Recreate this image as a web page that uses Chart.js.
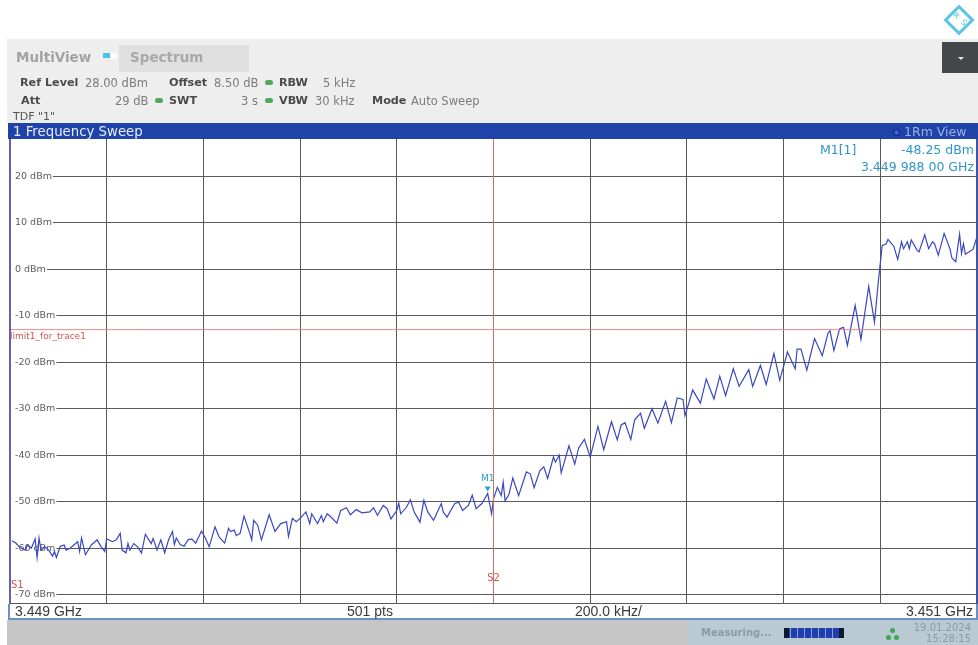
<!DOCTYPE html>
<html><head><meta charset="utf-8">
<script src="https://cdn.jsdelivr.net/npm/chart.js@4"></script>
<style>
html,body{margin:0;padding:0;background:#fff;width:978px;height:645px;overflow:hidden}
#root{position:relative;width:978px;height:645px;overflow:hidden;font-family:"DejaVu Sans",sans-serif;filter:blur(.45px)}
#root div{position:absolute}
.t{white-space:nowrap;line-height:14px}
.b{font-weight:bold;color:#4a4a4a;font-size:11.2px}
.g{color:#7c7c7c;font-size:11.5px}
.dot{width:8px;height:5px;border-radius:3px;background:#4fa85c}
.m{color:#2f97cc;font-size:12.5px;text-align:right}
.f{font-family:"Liberation Sans",sans-serif;font-size:14px;color:#3a3a3a}
</style></head><body>
<div id="root">
<div style="left:7px;top:39px;width:971px;height:84px;background:#eeeeee"></div>
<div style="left:942px;top:42px;width:36px;height:31px;background:#45484a"></div>
<div style="left:958px;top:57px;width:0;height:0;border-left:3px solid transparent;border-right:3px solid transparent;border-top:3px solid #e8e8e8"></div>
<div style="left:948px;top:9px;width:22px;height:22px;box-sizing:border-box;border:3px solid #5cc4e6;transform:rotate(45deg)"></div>
<div class="t" style="left:953px;top:9px;font-size:8px;color:#5cc4e6;transform:rotate(45deg)">R</div>
<div class="t" style="left:961px;top:16px;font-size:8px;color:#5cc4e6;transform:rotate(45deg)">S</div>

<div class="t" style="left:16px;top:50px;font-size:13.5px;font-weight:bold;color:#a3a3a3">MultiView</div>
<div style="left:103px;top:53px;width:7px;height:5px;background:#45c3ea"></div>
<div style="left:110px;top:53px;width:7px;height:6px;background:#fafafa"></div>
<div style="left:119px;top:45px;width:130px;height:27px;background:#e0e0e0"></div>
<div class="t" style="left:130px;top:50px;font-size:13.5px;font-weight:bold;color:#a8a8a8">Spectrum</div>

<div class="t b" style="left:20px;top:76px">Ref Level</div>
<div class="t g" style="left:85px;top:76px">28.00 dBm</div>
<div class="t b" style="left:169px;top:76px">Offset</div>
<div class="t g" style="left:214px;top:76px">8.50 dB</div>
<div class="dot" style="left:265px;top:80px"></div>
<div class="t b" style="left:279px;top:76px">RBW</div>
<div class="t g" style="left:323px;top:76px">5 kHz</div>

<div class="t b" style="left:21px;top:94px">Att</div>
<div class="t g" style="left:115px;top:94px">29 dB</div>
<div class="dot" style="left:155px;top:98px"></div>
<div class="t b" style="left:169px;top:94px">SWT</div>
<div class="t g" style="left:241px;top:94px">3 s</div>
<div class="dot" style="left:265px;top:98px"></div>
<div class="t b" style="left:279px;top:94px">VBW</div>
<div class="t g" style="left:315px;top:94px">30 kHz</div>
<div class="t b" style="left:372px;top:94px">Mode</div>
<div class="t g" style="left:411px;top:94px">Auto Sweep</div>
<div class="t" style="left:13px;top:110px;font-size:11px;color:#555">TDF "1"</div>

<div style="left:8px;top:123px;width:970px;height:16px;background:#1f43a8"></div>
<div class="t" style="left:13px;top:125px;font-size:13.3px;color:#e6ecf8">1 Frequency Sweep</div>
<div style="left:893px;top:129px;width:5px;height:5px;border-radius:50%;background:#3a5ee0;border:1px solid #10205a"></div>
<div class="t" style="left:904px;top:125px;font-size:12.5px;color:#9db0e0">1Rm View</div>

<div style="left:8px;top:139px;width:970px;height:480px;background:#fff"></div>
<canvas id="c" width="967" height="465" style="position:absolute;left:10px;top:139px"></canvas>
<div style="left:9px;top:139px;width:2px;height:465px;background:#6a5fa8"></div>
<div style="left:976px;top:139px;width:2px;height:465px;background:#3d55a8"></div>
<div style="left:10px;top:603px;width:967px;height:1px;background:#5a5a5a"></div>
<div style="left:8px;top:604px;width:2px;height:15px;background:#6e8fc4"></div>
<div style="left:976px;top:604px;width:2px;height:15px;background:#6e8fc4"></div>
<div style="left:8px;top:618px;width:970px;height:2px;background:#6e8fc4"></div>

<div class="t m" style="left:820px;top:143px">M1[1]</div>
<div class="t m" style="right:4px;top:143px">-48.25 dBm</div>
<div class="t m" style="right:4px;top:160px">3.449 988 00 GHz</div>

<div class="t f" style="left:15px;top:604px">3.449 GHz</div>
<div class="t f" style="left:347px;top:604px">501 pts</div>
<div class="t f" style="left:575px;top:604px">200.0 kHz/</div>
<div class="t f" style="right:5px;top:604px">3.451 GHz</div>

<div style="left:7px;top:620px;width:971px;height:25px;background:#c6c6c6"></div>
<div style="left:688px;top:620px;width:290px;height:25px;background:#b9cad3"></div>
<div class="t" style="left:701px;top:626px;font-size:10px;font-weight:bold;color:#8b9ba3">Measuring...</div>
<div style="left:784px;top:628px;width:60px;height:10px;background:repeating-linear-gradient(90deg,#1f3fb0 0 6px,#8da0c8 6px 7px)"></div>
<div style="left:784px;top:628px;width:5px;height:10px;background:#101830"></div>
<div style="left:839px;top:628px;width:5px;height:10px;background:#101830"></div>
<div style="left:890px;top:628px;width:5px;height:5px;border-radius:50%;background:#3fa850"></div>
<div style="left:886px;top:635px;width:5px;height:5px;border-radius:50%;background:#3fa850"></div>
<div style="left:894px;top:635px;width:5px;height:5px;border-radius:50%;background:#3fa850"></div>
<div class="t" style="right:7px;top:621px;font-size:10px;color:#8a9aa3">19.01.2024</div>
<div class="t" style="right:7px;top:632px;font-size:10px;color:#8a9aa3">15:28:15</div>
</div>
<script>
// Sweep point numbers (0-500, 4 kHz per point from 3.449 GHz)
const sweepPoints = [1,3,5,8,9,11,13,14,15,16,18,20,22,23,24,26,28,29,31,33,35,36,37,39,41,42,44,45,47,49,50,53,55,57,58,60,61,62,64,66,68,70,73,74,76,78,80,82,84,85,86,88,90,92,94,96,98,99,101,103,105,106,108,111,113,114,116,117,119,121,124,125,126,128,130,134,137,140,143,144,146,148,150,153,155,156,159,161,162,164,166,169,171,174,176,179,182,186,188,190,193,195,197,200,201,202,205,207,209,212,214,216,219,223,224,226,229,230,232,234,237,239,241,244,247,249,250,252,254,255,256,258,260,263,267,269,271,274,276,278,281,282,284,285,289,292,294,297,300,304,307,311,314,316,318,321,323,326,328,332,335,339,342,345,348,349,351,353,357,360,364,367,370,374,377,382,384,388,391,395,398,402,406,407,409,412,416,420,423,424,426,429,431,433,437,440,444,447,449,451,453,454,457,459,461,462,464,465,466,469,470,473,475,477,478,480,483,486,487,489,491,492,493,494,498,500];
// Trace level in dBm at each sweep point
const levels = [-58.4,-58.9,-59.8,-60.4,-59.3,-60,-58,-62,-57.8,-60.4,-59.7,-60.4,-61.7,-60.7,-62,-59.6,-59.3,-60.4,-60,-59.3,-58.6,-60.7,-57.8,-61.4,-60,-59.3,-58.6,-58.2,-59.6,-60.7,-58,-58.6,-58.2,-56.8,-60.4,-61,-59,-60.4,-59,-59.7,-61,-57,-59,-57.9,-60.4,-58.2,-61,-58.2,-56.4,-59.2,-57.8,-59.2,-59.6,-58.2,-58,-58.9,-57.2,-56.3,-57.8,-59.7,-56.8,-55.4,-57.5,-58.9,-55.7,-56.4,-56.1,-57.3,-56.8,-53.1,-56.8,-58.2,-54,-55,-58.2,-52.8,-56.4,-54.7,-54.3,-57.5,-53.6,-54.3,-53.6,-52.2,-54.7,-52.6,-54.7,-53,-54.3,-52.6,-53.3,-54.6,-51.9,-51.3,-52.8,-51.7,-52.4,-52.2,-51.3,-52.9,-50.8,-51.5,-53.7,-51.9,-50.3,-52.6,-51.2,-49.6,-52.2,-54.4,-49.7,-52.2,-54,-50.4,-52.2,-53.3,-51.1,-50.4,-50.1,-51.9,-50.8,-48.6,-51.5,-50.4,-48.25,-52.6,-49.4,-46.9,-48.7,-45.8,-49.8,-48.4,-44.9,-48.7,-43.6,-44,-47,-43.3,-42.5,-45,-40.4,-41.5,-40,-43.8,-38,-41.9,-38.5,-36.6,-40.4,-33.8,-38.8,-32.8,-36.7,-33.5,-33,-36.6,-32.4,-31,-34.2,-30,-33.1,-28.4,-33,-27.7,-28,-31.5,-28.8,-26,-28.8,-23.6,-27.9,-23,-27.2,-21.4,-25.2,-21.6,-25.2,-20.7,-24.8,-18.1,-23.9,-17.8,-21.4,-17.2,-17.2,-21.7,-14.9,-18.6,-13.7,-13.2,-17.5,-12.8,-12.5,-16.4,-7.8,-15.1,-3.7,-11.4,-2.6,5.1,5.4,6.4,4.9,2.1,5.9,4.4,5.9,4.4,6.3,4.1,3.7,7.4,4.4,5.9,5.5,3,7.7,4.4,2.4,1.6,7.5,3.4,5.5,3.2,4.3,7];
const yTickValues = [20,10,0,-10,-20,-30,-40,-50,-60,-70];
const refLevel = 28;
const bottomLevel = -72;
const spanKHz = 2000;
const divKHz = 200;
const kHzPerPoint = 4;
const limitLevel = -13;
const limitName = 'limit1_for_trace1';
const marker = {point:247, level:-48.25, name:'M1'};
const s2Point = 250;

const overlay = {
  id:'overlay',
  afterDatasetsDraw(ch){
    const c = ch.ctx, x = ch.scales.x, y = ch.scales.y;
    c.save();
    c.textBaseline='middle';
    c.font='9px "DejaVu Sans"';
    c.fillStyle='#d9534f';
    c.textAlign='left';
    c.fillText(limitName, 0, y.getPixelForValue(limitLevel)+7.5);
    c.font='10px "DejaVu Sans"';
    c.fillText('S1', 1, y.getPixelForValue(-68));
    c.textAlign='center';
    c.fillText('S2', x.getPixelForValue(s2Point*kHzPerPoint), y.getPixelForValue(-66.5));
    const mx = x.getPixelForValue(marker.point*kHzPerPoint), my = y.getPixelForValue(marker.level);
    c.fillStyle='#2aa0cc';
    c.font='9px "DejaVu Sans"';
    c.fillText(marker.name, mx, my-15);
    c.beginPath();c.moveTo(mx-3,my-7);c.lineTo(mx+3,my-7);c.lineTo(mx,my-2);c.closePath();c.fill();
    c.restore();
  }
};

function noPad(s){s.paddingTop=0;s.paddingBottom=0;s.paddingLeft=0;s.paddingRight=0;}

new Chart(document.getElementById('c'),{
  type:'line',
  data:{datasets:[
    {label:'Limit',data:[{x:0,y:limitLevel},{x:spanKHz,y:limitLevel}],borderColor:'#e88a86',borderWidth:1,pointRadius:0},
    {label:'S2',data:[{x:s2Point*kHzPerPoint,y:bottomLevel},{x:s2Point*kHzPerPoint,y:refLevel}],borderColor:'#c9736e',borderWidth:1,pointRadius:0},
    {label:'Trace 1',data:sweepPoints.map((p,i)=>({x:p*kHzPerPoint,y:levels[i]})),borderColor:'#3a48c0',borderWidth:1.2,pointRadius:0,tension:0}
  ]},
  plugins:[overlay],
  options:{
    responsive:false,animation:false,
    layout:{padding:0},
    plugins:{legend:{display:false},tooltip:{enabled:false}},
    scales:{
      x:{type:'linear',min:0,max:spanKHz,
        afterFit(s){s.height=0;noPad(s);},
        ticks:{display:false,stepSize:divKHz},
        border:{display:false},
        grid:{color:'#5a5a5a',lineWidth:1,drawTicks:false}},
      y:{type:'linear',min:bottomLevel,max:refLevel,
        afterBuildTicks(s){s.ticks=yTickValues.map(v=>({value:v}));},
        afterFit(s){s.width=0;noPad(s);},
        border:{display:false},
        grid:{color:'#5a5a5a',lineWidth:1,drawTicks:false},
        ticks:{mirror:true,padding:5,autoSkip:false,maxRotation:0,color:'#5c5c5c',font:{family:'"DejaVu Sans"',size:9.5},
          showLabelBackdrop:true,backdropColor:'#ffffff',backdropPadding:{left:5,right:1,top:1,bottom:1},
          callback:v=>v+' dBm'}}
    }
  }
});
</script>
</body></html>
